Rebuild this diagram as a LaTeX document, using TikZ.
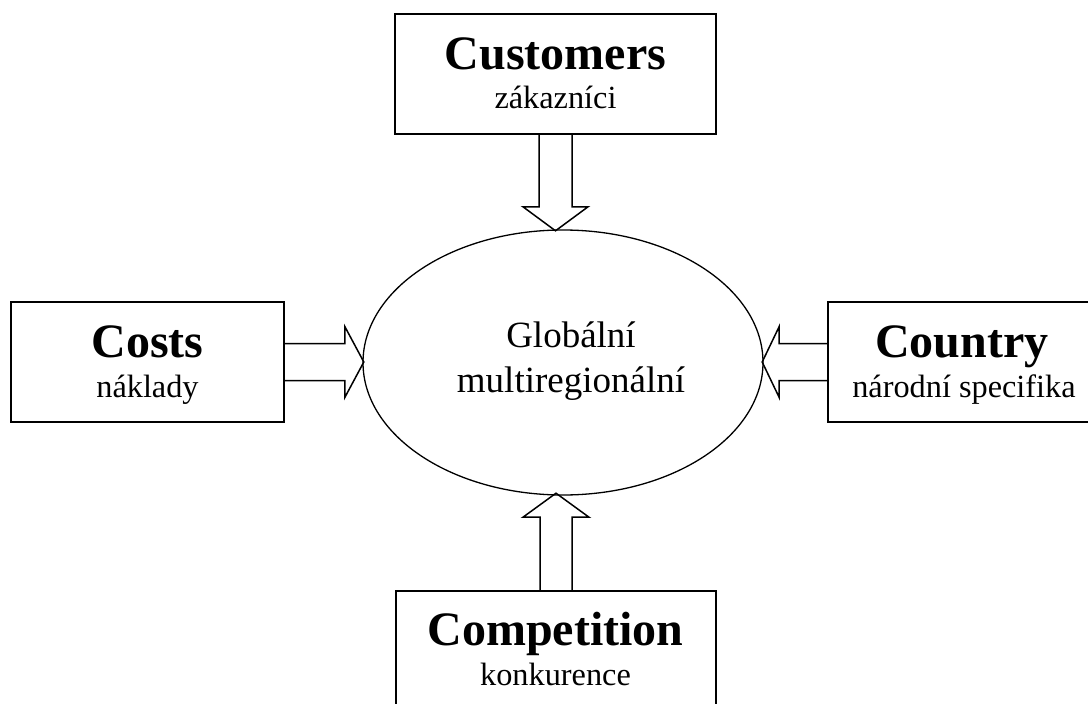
\documentclass[tikz,border=0pt]{standalone}
\usepackage{fontspec}
\setmainfont{Liberation Serif}
\usetikzlibrary{shapes.geometric}
\begin{document}
\begin{tikzpicture}[x=1pt,y=-1pt,
  boxnode/.style={draw,line width=1.6pt,rectangle,inner sep=0pt},
  title/.style={anchor=base,inner sep=0pt,font=\fontsize{48}{50}\selectfont\bfseries},
  sub/.style={anchor=base,inner sep=0pt,font=\fontsize{32.3}{34}\selectfont},
  mid/.style={anchor=base,inner sep=0pt,font=\fontsize{37}{40}\selectfont},
  blockarrow/.style={draw,line width=1.5pt,line join=miter}]
\useasboundingbox (0,0) rectangle (1088,704);
\clip (0,0) rectangle (1088,704);
\fill[white] (0,0) rectangle (1088,704);
% boxes
\node[boxnode,minimum width=321pt,minimum height=120pt] (cust) at (555.5,74) {};
\node[boxnode,minimum width=273pt,minimum height=120pt] (costs) at (147.5,362) {};
\node[boxnode,minimum width=270pt,minimum height=120pt] (country) at (963,362) {};
\node[boxnode,minimum width=320pt,minimum height=120pt] (comp) at (556,651) {};
% ellipse
\node[draw,ellipse,line width=1.3pt,minimum width=400pt,minimum height=265pt,inner sep=0pt] (glob) at (563,362.5) {};
% texts
\node[title] (custT) at (555.5,69) {Customers};
\node[sub] (custS) at (555.5,108) {zákazníci};
\node[title] (costsT) at (147.5,357) {Costs};
\node[sub] (costsS) at (147.5,397) {náklady};
\node[title] (countryT) at (962,357) {Country};
\node[sub] (countryS) at (964,397) {národní specifika};
\node[title] (compT) at (555.5,645) {Competition};
\node[sub] (compS) at (555.5,685) {konkurence};
\node[mid] (globA) at (571,347) {Globální};
\node[mid] (globB) at (571,392) {multiregionální};
% block arrows
\draw[blockarrow] ([xshift=-16.5pt]cust.south) -- ++(0,72) -- ++(-16,0) -- ++(32.5,24) -- ++(32.5,-24) -- ++(-16,0) -- ([xshift=16.5pt]cust.south);
\draw[blockarrow] ([yshift=18.5pt]costs.east) -- ++(60,0) -- ++(0,-17) -- ++(19,35.5) -- ++(-19,35.5) -- ++(0,-17) -- ([yshift=-18.5pt]costs.east);
\draw[blockarrow] ([yshift=18.5pt]country.west) -- ++(-48,0) -- ++(0,-17) -- ++(-17,35.5) -- ++(17,35.5) -- ++(0,-17) -- ([yshift=-18.5pt]country.west);
\draw[blockarrow] ([xshift=-16pt]comp.north) -- ++(0,-73) -- ++(-17,0) -- ++(33,-24) -- ++(33,24) -- ++(-17,0) -- ([xshift=16pt]comp.north);
\end{tikzpicture}
\end{document}
